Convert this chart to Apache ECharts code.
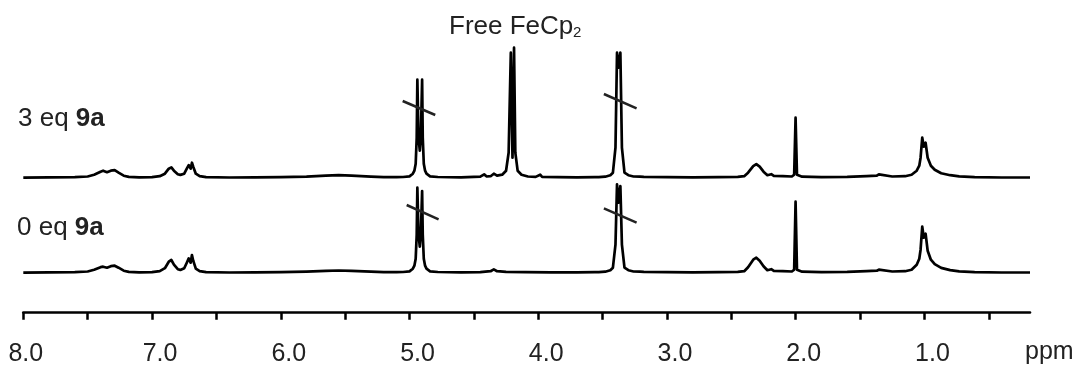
<!DOCTYPE html>
<html>
<head>
<meta charset="utf-8">
<script src="https://cdn.jsdelivr.net/npm/echarts@6/dist/echarts.min.js"></script>
<style>
  html, body { margin: 0; padding: 0; background: #fff; }
  #chart { width: 1082px; height: 369px; }
</style>
</head>
<body>
<div id="chart"></div>
<script>
// ---- Data (ppm, relative intensity) ----
const spectrum3eq = [
  [8.00,0],[7.80,0.3],[7.60,0.6],[7.50,1.2],[7.45,3],[7.40,6],[7.38,7],[7.35,5.5],[7.32,7],[7.29,7.5],[7.26,5],[7.22,2],[7.18,0.8],[7.10,0.4],
  [7.00,0.5],[6.94,1.5],[6.90,4],[6.87,9],[6.85,10.3],[6.83,7],[6.80,3.5],[6.78,2.8],[6.75,4],[6.73,9],[6.715,12.5],[6.70,9],[6.69,15],[6.68,11],[6.66,4],[6.63,1.5],[6.58,0.5],
  [6.40,0.2],[6.20,0.3],[6.00,0.5],[5.80,1],[5.65,2],[5.55,2.5],[5.45,2],[5.30,1],[5.20,0.5],[5.10,0.6],
  [5.05,0.7],[5.00,1.3],[4.985,2],[4.974,4],[4.962,7],[4.952,14],[4.944,40],[4.939,98],[4.93,40],[4.92,27],[4.912,40],[4.902,98],[4.897,40],[4.889,14],[4.879,7],[4.868,4],[4.855,2],[4.84,1.3],[4.78,0.7],
  [4.60,0.4],[4.45,1],[4.42,3.3],[4.40,1.2],[4.37,1.5],[4.345,4],[4.32,2],[4.28,3],[4.25,7],[4.23,25],[4.213,125],[4.20,20],[4.188,130],[4.178,25],[4.16,7],[4.13,3],[4.08,1.2],
  [4.02,0.8],[3.985,3],[3.97,0.8],[3.85,0.5],[3.70,0.4],[3.56,0.5],[3.548,1.8],[3.53,0.6],
  [3.48,1],[3.44,2.5],[3.42,5],[3.40,30],[3.388,125],[3.375,110],[3.362,125],[3.35,30],[3.33,5],[3.30,2.5],[3.26,1.2],
  [3.21,1],[3.20,2],[3.18,0.8],[3.00,0.5],[2.80,0.4],[2.60,0.5],[2.45,0.8],
  [2.40,1.5],[2.37,5],[2.33,11.5],[2.306,13.5],[2.28,11],[2.25,6],[2.22,2.5],[2.19,3.5],[2.17,1.8],[2.10,1.5],
  [2.03,1.2],[2.012,3],[2.001,60],[1.99,3],[1.975,2],[1.95,1],
  [1.80,0.5],[1.60,0.8],[1.45,1.5],[1.37,2],[1.354,3.3],[1.34,1.8],[1.25,1.2],[1.15,1.5],
  [1.10,3],[1.06,7],[1.04,12],[1.03,20],[1.017,40],[1.005,31],[0.991,35],[0.975,20],[0.95,12],[0.92,8],[0.87,4.5],[0.80,2.5],[0.73,1.3],[0.61,0.5],[0.40,0.2],[0.18,0.2]
];

const spectrum0eq = [
  [8.00,0],[7.80,0.3],[7.60,0.6],[7.50,1.2],[7.45,3],[7.40,5.5],[7.38,6],[7.35,5],[7.32,6.5],[7.29,7],[7.26,5],[7.22,2],[7.18,0.8],[7.10,0.4],
  [7.00,0.5],[6.94,1.5],[6.90,4.5],[6.87,11],[6.85,12.7],[6.83,8],[6.80,3.5],[6.78,2.8],[6.75,4.5],[6.73,10],[6.715,14.3],[6.70,10],[6.69,17.7],[6.68,12],[6.66,4],[6.63,1.5],[6.58,0.5],
  [6.40,0.2],[6.20,0.3],[6.00,0.5],[5.80,1],[5.65,1.8],[5.55,2.2],[5.45,1.8],[5.30,1],[5.20,0.5],[5.10,0.6],
  [5.05,0.7],[5.00,1.3],[4.985,2],[4.974,4],[4.962,7],[4.952,14],[4.944,38],[4.939,85],[4.93,38],[4.92,26],[4.912,38],[4.902,81.7],[4.897,38],[4.889,14],[4.879,7],[4.868,4],[4.855,2],[4.84,1.3],[4.78,0.7],
  [4.60,0.4],[4.45,0.6],[4.37,1.5],[4.345,3.3],[4.32,1.5],[4.25,0.8],[4.10,0.5],[3.90,0.4],[3.70,0.4],[3.56,0.5],[3.548,1.5],[3.53,0.6],
  [3.48,1],[3.44,2.5],[3.42,5],[3.40,28],[3.388,88.4],[3.375,70],[3.362,86.7],[3.35,28],[3.33,5],[3.30,2.5],[3.26,1.2],
  [3.21,1],[3.20,1.8],[3.18,0.8],[3.00,0.5],[2.80,0.4],[2.60,0.5],[2.45,0.8],
  [2.40,1.5],[2.37,5.5],[2.33,13],[2.306,15],[2.28,12],[2.25,6.5],[2.22,2.5],[2.19,3.5],[2.17,1.8],[2.10,1.5],
  [2.03,1.2],[2.012,3],[2.001,71],[1.99,3],[1.975,2],[1.95,1],
  [1.80,0.5],[1.60,0.8],[1.45,1.5],[1.37,2],[1.354,3],[1.34,1.8],[1.25,1.2],[1.15,1.5],
  [1.10,3],[1.06,8],[1.04,14],[1.03,23],[1.017,46],[1.005,35],[0.991,39],[0.975,22],[0.95,13],[0.92,8.5],[0.87,4.8],[0.80,2.6],[0.73,1.3],[0.61,0.5],[0.40,0.2],[0.18,0.2]
];

// axis-break marks across truncated peaks: [[ppm, intensity], [ppm, intensity]]
const breaks3eq = [[[5.053, 76.7], [4.800, 62.7]], [[3.490, 83.7], [3.236, 69.4]]];
const breaks0eq = [[[5.022, 67.7], [4.774, 53.4]], [[3.490, 64.4], [3.236, 50.0]]];

const tickValues = [8, 7.5, 7, 6.5, 6, 5.5, 5, 4.5, 4, 3.5, 3, 2.5, 2, 1.5, 1, 0.5];
const labelValues = [8, 7, 6, 5, 4, 3, 2, 1];
const axisUnit = 'ppm';
const traceLabels = ['3 eq', '0 eq'];
const compoundLabel = '9a';
const peakLabel = 'Free FeCp';

// ---- Chart ----
const FONT = 'Liberation Sans, Arial, sans-serif';
const chart = echarts.init(document.getElementById('chart'), null, { renderer: 'canvas' });

function breakLines(pairs) {
  return {
    silent: true,
    symbol: ['none', 'none'],
    label: { show: false },
    lineStyle: { color: '#222', width: 2.5, type: 'solid' },
    emphasis: { disabled: true },
    animation: false,
    data: pairs.map(p => [{ coord: p[0] }, { coord: p[1] }])
  };
}

const xCommon = { type: 'value', min: 0.18, max: 8, inverse: true };

chart.setOption({
  backgroundColor: '#ffffff',
  animation: false,
  grid: [
    { left: 23.3, right: 52, top: 37.7, height: 140 },
    { left: 23.3, right: 52, top: 132.7, height: 140 }
  ],
  xAxis: [
    Object.assign({}, xCommon, { gridIndex: 0, show: false }),
    Object.assign({}, xCommon, {
      gridIndex: 1,
      offset: 40,
      axisLine: { show: true, onZero: false, lineStyle: { color: '#000', width: 2.6 } },
      axisTick: { show: true, customValues: tickValues, length: 7, inside: false, lineStyle: { color: '#000', width: 2.5 } },
      axisLabel: {
        show: true,
        customValues: labelValues,
        margin: 29,
        formatter: v => (v === 8 ? '{f|' : '{n|') + v.toFixed(1) + '}',
        rich: {
          n: { fontSize: 25, fontFamily: FONT, color: '#222', padding: [0, 0, 0, 16], lineHeight: 25 },
          f: { fontSize: 25, fontFamily: FONT, color: '#222', padding: [0, 0, 0, 5], lineHeight: 25 }
        }
      },
      splitLine: { show: false }
    })
  ],
  yAxis: [
    { type: 'value', gridIndex: 0, min: 0, max: 140, show: false },
    { type: 'value', gridIndex: 1, min: 0, max: 140, show: false }
  ],
  series: [
    {
      name: traceLabels[0], type: 'line', xAxisIndex: 0, yAxisIndex: 0,
      data: spectrum3eq, showSymbol: false, symbol: 'none', clip: false,
      lineStyle: { color: '#000', width: 2.7, join: 'round' },
      markLine: breakLines(breaks3eq)
    },
    {
      name: traceLabels[1], type: 'line', xAxisIndex: 1, yAxisIndex: 1,
      data: spectrum0eq, showSymbol: false, symbol: 'none', clip: false,
      lineStyle: { color: '#000', width: 2.7, join: 'round' },
      markLine: breakLines(breaks0eq)
    }
  ],
  graphic: [
    {
      type: 'text', x: 18, y: 119,
      style: {
        text: '{n|' + traceLabels[0] + ' }{b|' + compoundLabel + '}',
        verticalAlign: 'middle',
        rich: {
          n: { fontSize: 26, fontFamily: FONT, fill: '#222' },
          b: { fontSize: 26, fontFamily: FONT, fill: '#222', fontWeight: 'bold' }
        }
      }
    },
    {
      type: 'text', x: 17, y: 228,
      style: {
        text: '{n|' + traceLabels[1] + ' }{b|' + compoundLabel + '}',
        verticalAlign: 'middle',
        rich: {
          n: { fontSize: 26, fontFamily: FONT, fill: '#222' },
          b: { fontSize: 26, fontFamily: FONT, fill: '#222', fontWeight: 'bold' }
        }
      }
    },
    {
      type: 'text', x: 449, y: 27,
      style: { text: peakLabel, fontSize: 26, fontFamily: FONT, fill: '#222', verticalAlign: 'middle' }
    },
    {
      type: 'text', x: 573, y: 33,
      style: { text: '2', fontSize: 15, fontFamily: FONT, fill: '#222', verticalAlign: 'middle' }
    },
    {
      type: 'text', x: 1025, y: 352,
      style: { text: axisUnit, fontSize: 25, fontFamily: FONT, fill: '#222', verticalAlign: 'middle' }
    }
  ]
});
</script>
</body>
</html>
